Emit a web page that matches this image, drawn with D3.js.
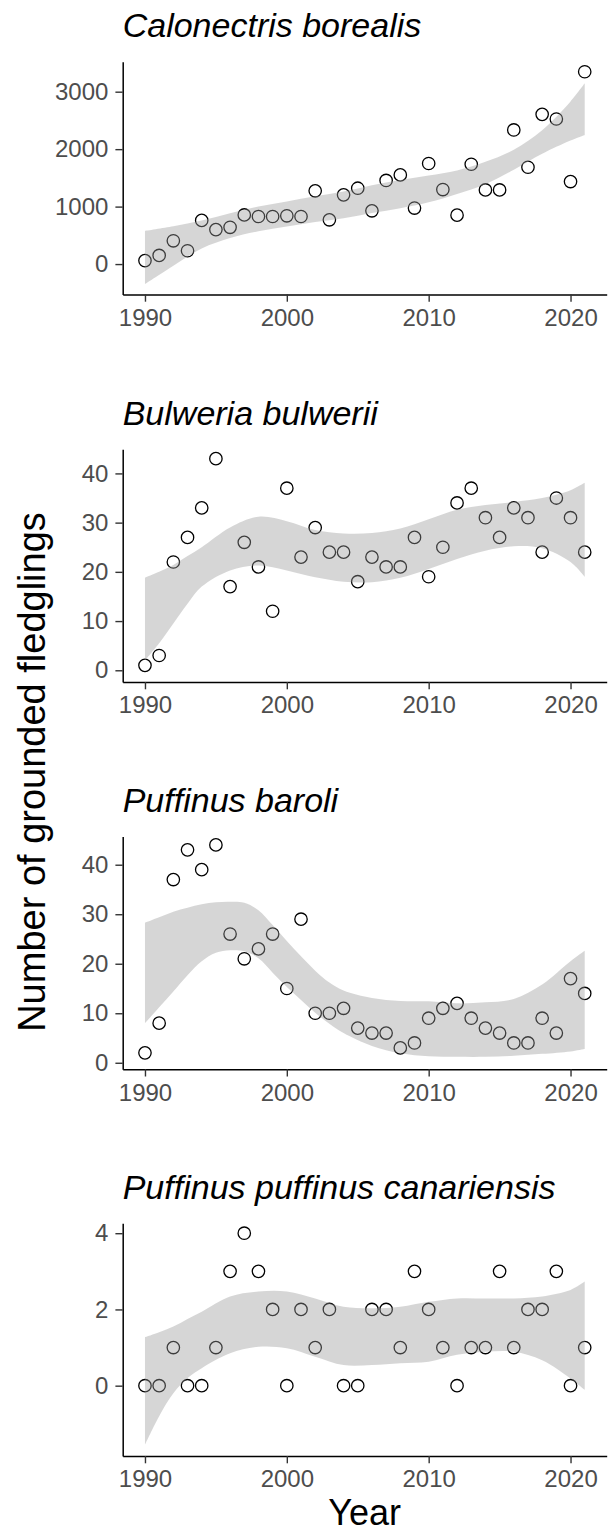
<!DOCTYPE html>
<html>
<head>
<meta charset="utf-8">
<script src="https://cdn.jsdelivr.net/npm/d3@7/dist/d3.min.js"></script>
<style>
  body { margin: 0; background: #fff; }
  text { font-family: "Liberation Sans", Arial, sans-serif; }
</style>
</head>
<body>
<svg></svg>
<script>
// years on the x axis
const years = [1990, 1991, 1992, 1993, 1994, 1995, 1996, 1997, 1998, 1999, 2000, 2001, 2002, 2003, 2004, 2005,
  2006, 2007, 2008, 2009, 2010, 2011, 2012, 2013, 2014, 2015, 2016, 2017, 2018, 2019, 2020, 2021];
const yearTicks = [1990, 2000, 2010, 2020];

// grounded fledglings per year
const calonectris = [60, 150, 405, 232, 760, 600, 640, 855, 828, 828, 840, 828, 1275, 770, 1205, 1320,
  927, 1455, 1552, 975, 1750, 1297, 851, 1737, 1290, 1290, 2334, 1685, 2606, 2525, 1436, 3347];
const bulweria = [1, 3, 22, 27, 33, 43, 17, 26, 21, 12, 37, 23, 29, 24, 24, 18,
  23, 21, 21, 27, 19, 25, 34, 37, 31, 27, 33, 31, 24, 35, 31, 24];
const baroli = [2, 8, 37, 43, 39, 44, 26, 21, 23, 26, 15, 29, 10, 10, 11, 7,
  6, 6, 3, 4, 9, 11, 12, 9, 7, 6, 4, 4, 9, 6, 17, 14];
const canariensis = [0, 0, 1, 0, 0, 1, 3, 4, 3, 2, 0, 2, 1, 2, 0, 0,
  2, 2, 1, 3, 2, 1, 0, 1, 1, 3, 1, 2, 2, 3, 0, 1];

// confidence band of the smoother (upper / lower edge)
const caloBandYears = [1990, 1992, 1994, 1996, 1998, 2000, 2002, 2004, 2006, 2008, 2010, 2012, 2014, 2016, 2018, 2020, 2021];
const caloUpper = [579, 660, 760, 886, 1000, 1089, 1180, 1262, 1370, 1465, 1540, 1630, 1780, 1990, 2330, 2830, 3145];
const caloLower = [-350, -30, 270, 452, 570, 654, 730, 799, 890, 973, 1075, 1220, 1390, 1640, 1920, 2150, 2247];

const bulwBandYears = [1990, 1991, 1992, 1993, 1994, 1996, 1998, 2000, 2002, 2004, 2006, 2008, 2010, 2012, 2014, 2016, 2018, 2020, 2021];
const bulwUpper = [18.8, 20, 21.4, 23.2, 25, 29, 31.2, 30.3, 28.5, 27.8, 27.9, 28.8, 30.7, 32.6, 33.6, 34.2, 35, 36.6, 38.1];
const bulwLower = [2, 5.5, 9.5, 13.5, 17, 20.3, 21.3, 20.3, 18.9, 18, 17.9, 18.8, 20.6, 22.6, 24.3, 25.2, 24.8, 22, 19];

const baroBandYears = [1990, 1991, 1992, 1993, 1994, 1995, 1996, 1997, 1998, 1999, 2000, 2001, 2002, 2003, 2004,
  2006, 2008, 2010, 2012, 2014, 2016, 2018, 2020, 2021];
const baroUpper = [28.3, 29.4, 30.5, 31.3, 32, 32.4, 32.5, 32.3, 30.8, 27.8, 24.6, 21.5, 18.6, 16.2, 14.6,
  13.1, 12.5, 12.4, 12, 12.2, 12.9, 15.8, 20.5, 22.6];
const baroLower = [8, 11.2, 14.4, 17.7, 20.5, 22.2, 22.7, 22.5, 21.1, 18.2, 15.3, 12.7, 10.1, 7.9, 6,
  3.4, 1.9, 1.3, 1.2, 1.2, 1.4, 1.8, 2.3, 2.8];

const canaBandYears = [1990, 1991, 1992, 1993, 1994, 1996, 1998, 2000, 2002, 2004, 2006, 2008, 2010, 2012, 2014, 2016, 2018, 2020, 2021];
const canaUpper = [1.27, 1.4, 1.55, 1.75, 1.94, 2.34, 2.47, 2.47, 2.29, 2.07, 2.03, 2.07, 2.2, 2.29, 2.29, 2.29, 2.34, 2.51, 2.73];
const canaLower = [-1.55, -0.8, -0.2, 0.2, 0.46, 0.85, 1.02, 0.98, 0.76, 0.54, 0.54, 0.59, 0.63, 0.81, 0.89, 0.89, 0.67, 0.19, -0.11];

const titles = ["Calonectris borealis", "Bulweria bulwerii", "Puffinus baroli", "Puffinus puffinus canariensis"];
const yTicks = [[0, 1000, 2000, 3000], [0, 10, 20, 30, 40], [0, 10, 20, 30, 40], [0, 2, 4]];
const yDomains = [[-528, 3522], [-2.38, 44.9], [-1.3, 45.7], [-1.845, 4.26]];

const panels = [
  { title: titles[0], values: calonectris, bandYears: caloBandYears, upper: caloUpper, lower: caloLower },
  { title: titles[1], values: bulweria, bandYears: bulwBandYears, upper: bulwUpper, lower: bulwLower },
  { title: titles[2], values: baroli, bandYears: baroBandYears, upper: baroUpper, lower: baroLower },
  { title: titles[3], values: canariensis, bandYears: canaBandYears, upper: canaUpper, lower: canaLower }
];

const width = 611, height = 1534;
const left = 122.7, right = 606.7;
const panelTops = [61.7, 449.3, 836.5, 1223.3];
const panelH = 232.7;
const tickLen = 7.3;

const svg = d3.select("svg")
  .attr("width", width)
  .attr("height", height);

const x = d3.scaleLinear()
  .domain([1988.43, 2022.55])
  .range([left, right]);

panels.forEach((p, i) => {
  const top = panelTops[i];
  const bottom = top + panelH;

  const y = d3.scaleLinear()
    .domain(yDomains[i])
    .range([bottom, top]);

  const g = svg.append("g").attr("class", "panel");

  // points first, the smoother band goes on top (as in ggplot)
  g.append("g")
    .selectAll("circle")
    .data(years.map((yr, j) => ({ year: yr, value: p.values[j] })))
    .enter()
    .append("circle")
    .attr("cx", d => x(d.year))
    .attr("cy", d => y(d.value))
    .attr("r", 6.2)
    .attr("fill", "none")
    .attr("stroke", "#000")
    .attr("stroke-width", 1.3);

  const band = d3.area()
    .x(d => x(d.year))
    .y0(d => y(d.lo))
    .y1(d => y(d.hi))
    .curve(d3.curveCatmullRom);

  g.append("path")
    .datum(p.bandYears.map((yr, j) => ({ year: yr, lo: p.lower[j], hi: p.upper[j] })))
    .attr("d", band)
    .attr("fill", "#999999")
    .attr("fill-opacity", 0.4);

  const xAxis = g.append("g")
    .attr("transform", `translate(0,${bottom})`)
    .call(d3.axisBottom(x).tickValues(yearTicks).tickFormat(d3.format("d"))
      .tickSize(tickLen).tickSizeOuter(0).tickPadding(7));

  const yAxis = g.append("g")
    .attr("transform", `translate(${left},0)`)
    .call(d3.axisLeft(y).tickValues(yTicks[i]).tickFormat(d3.format("d"))
      .tickSize(tickLen).tickSizeOuter(0).tickPadding(7));

  [xAxis, yAxis].forEach(a => {
    a.select(".domain").attr("stroke", "#000").attr("stroke-width", 1.5);
    a.selectAll(".tick line").attr("stroke", "#333").attr("stroke-width", 1.4);
    a.selectAll(".tick text")
      .attr("fill", "#4d4d4d")
      .style("font-size", "24px")
      .style("font-family", "'Liberation Sans', Arial, sans-serif");
  });

  g.append("text")
    .attr("x", left)
    .attr("y", top - 24.5)
    .attr("font-size", 34)
    .attr("font-style", "italic")
    .attr("fill", "#000")
    .text(p.title);
});

svg.append("text")
  .attr("x", (left + right) / 2)
  .attr("y", 1525)
  .attr("text-anchor", "middle")
  .attr("font-size", 36)
  .attr("fill", "#000")
  .text("Year");

svg.append("text")
  .attr("transform", "translate(45,772) rotate(-90)")
  .attr("text-anchor", "middle")
  .attr("font-size", 38)
  .attr("fill", "#000")
  .text("Number of grounded fledglings");
</script>
</body>
</html>
